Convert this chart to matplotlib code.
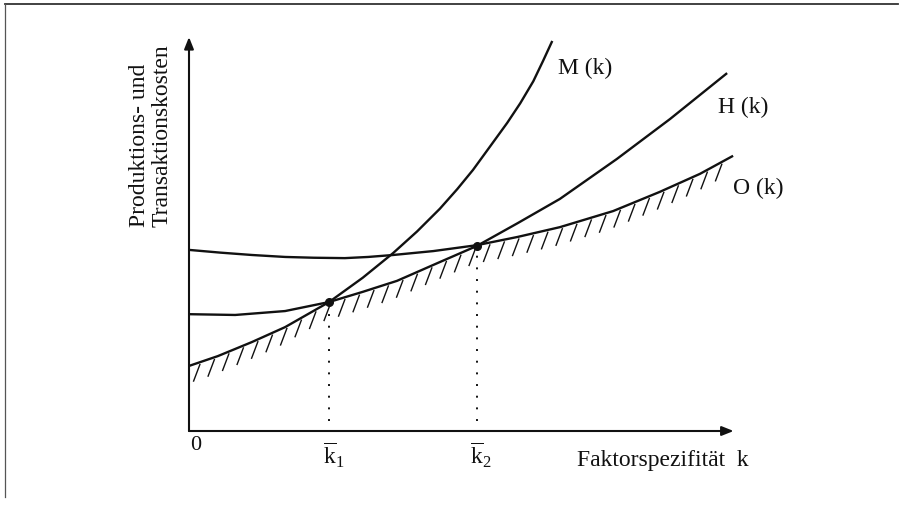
import matplotlib
matplotlib.use("Agg")
import matplotlib.pyplot as plt
from matplotlib.lines import Line2D
import numpy as np

# cost curves (x: Faktorspezifität, y: Kosten, both 0..100)
M_X = [0, 5.3, 11.6, 17.7, 25.8, 32.0, 37.6, 42.0, 46.2, 49.4, 52.3, 55.4,
       58.6, 61.0, 63.4, 65.2, 66.9]
M_Y = [16.6, 19.1, 22.7, 26.5, 32.9, 39.1, 45.4, 50.9, 56.7, 61.7, 66.6,
       72.5, 78.6, 83.6, 89.2, 94.4, 99.5]

H_X = [0, 8.5, 17.7, 25.8, 32.0, 38.3, 46.2, 53.0, 60.5, 68.3, 78.8, 88.6, 99.1]
H_Y = [29.8, 29.6, 30.6, 32.9, 35.5, 38.3, 43.1, 47.2, 53.0, 59.2, 69.4, 79.6, 91.3]

O_X = [0, 5.8, 11.6, 17.7, 23.0, 28.7, 33.0, 37.6, 45.0, 53.0, 60.5, 68.3,
       78.1, 86.7, 94.1, 100.2]
O_Y = [46.2, 45.5, 44.9, 44.4, 44.2, 44.1, 44.4, 44.9, 45.9, 47.4, 49.5, 52.0,
       56.1, 61.0, 65.6, 70.2]

# switch points k1 (M -> H) and k2 (H -> O)
K_X = [25.8, 53.0]
K_Y = [32.9, 47.3]
K_LABELS = [r"$\overline{\mathrm{k}}_{1}$", r"$\overline{\mathrm{k}}_{2}$"]

CURVE_LABELS = ["M (k)", "H (k)", "O (k)"]

plt.rcParams.update({
    "font.family": ["Liberation Serif", "DejaVu Serif"],
    "mathtext.fontset": "custom",
    "mathtext.rm": "Liberation Serif",
    "mathtext.it": "Liberation Serif:italic",
})

fig = plt.figure(figsize=(9, 5.06), dpi=100, facecolor="white")
W, H = 900, 506
ax = fig.add_axes([189 / W, (H - 432) / H, 543 / W, 392 / H])
ax.set_xlim(0, 100)
ax.set_ylim(0, 100)
ax.axis("off")

ink = "#111111"
fs = 17

# frame lines of the scan (top and left only)
fig.add_artist(Line2D([5 / W, 898 / W], [1 - 5 / H, 1 - 5 / H],
                      color="#333333", lw=1.3))
fig.add_artist(Line2D([5 / W, 5 / W], [1 - 5 / H, 1 - 498 / H],
                      color="#555555", lw=0.9))

# axes with arrows
arrow = dict(arrowstyle="-|>,head_length=0.7,head_width=0.28",
             color=ink, lw=1.5, shrinkA=0, shrinkB=0, mutation_scale=10)
ax.annotate("", xy=(100.3, 0), xytext=(0, 0), arrowprops=arrow,
            annotation_clip=False)
ax.annotate("", xy=(0, 100.5), xytext=(0, 0), arrowprops=arrow,
            annotation_clip=False)

# curves
for xs, ys in [(M_X, M_Y), (H_X, H_Y), (O_X, O_Y)]:
    ax.plot(xs, ys, color=ink, lw=1.7, solid_capstyle="butt",
            solid_joinstyle="round", clip_on=False)

# hatching under the lower envelope
hx = np.arange(2.0, 98.5, 2.67)
env = np.minimum.reduce([np.interp(hx, M_X, M_Y),
                         np.interp(hx, H_X, H_Y),
                         np.interp(hx, O_X, O_Y)])
for x0, y0 in zip(hx, env):
    ax.plot([x0, x0 - 1.15], [y0 - 0.6, y0 - 4.8], color=ink, lw=1.0,
            clip_on=False)

# switch points, dotted drop lines and labels
for kx, ky, lab in zip(K_X, K_Y, K_LABELS):
    ax.plot([kx, kx], [2.5, ky - 2.0], color=ink, lw=1.4,
            linestyle=(0, (1, 5)))
    ax.plot(kx, ky, "o", color=ink, ms=5.5, zorder=5)
    ax.text(kx + 0.8, -6.0, lab, ha="center", va="center", fontsize=fs,
            color=ink)

ax.text(1.3, -3.4, "0", ha="center", va="center", fontsize=fs - 1, color=ink)
ax.text(71.5, -8.7, "Faktorspezifität  k", ha="left", va="baseline",
        fontsize=fs, color=ink)

# curve labels
for (lx, ly), lab in zip([(68.0, 91.3), (97.4, 81.4), (100.2, 60.7)],
                         CURVE_LABELS):
    ax.text(lx, ly, lab, ha="left", va="baseline", fontsize=fs, color=ink)

# y-axis label, two rotated lines
ax.text(-8.1, 52.3, "Produktions- und", rotation=90, rotation_mode="anchor",
        ha="left", va="baseline", fontsize=fs, color=ink)
ax.text(-3.9, 52.3, "Transaktionskosten", rotation=90, rotation_mode="anchor",
        ha="left", va="baseline", fontsize=fs, color=ink)

fig.savefig("out.png", dpi=100, facecolor="white")
